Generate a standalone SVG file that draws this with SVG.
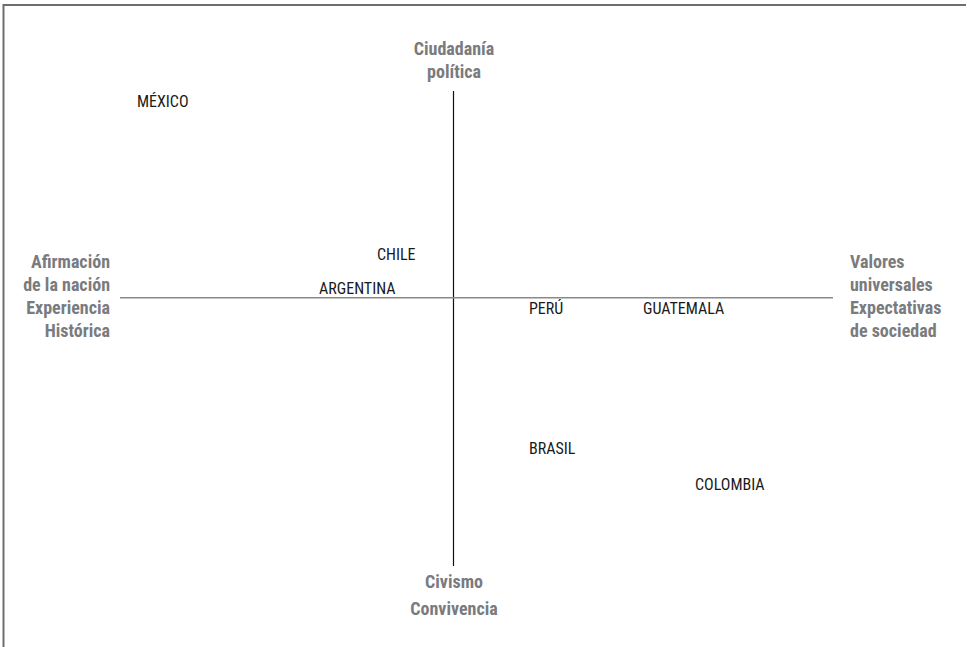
<svg xmlns="http://www.w3.org/2000/svg" width="967" height="647" viewBox="0 0 967 647">
<style>
.vx{stroke:#111;stroke-width:1.2;fill:none}
.hx{stroke:#8a8a8a;stroke-width:1.5;fill:none}
.fr{stroke:#6d6e70;stroke-width:2;fill:none}
.lab{font-family:"Liberation Sans Narrow","Arial Narrow","Roboto Condensed","Liberation Sans",sans-serif;font-weight:bold;font-size:18px;fill:#7a7b7e}
.c{font-family:"Liberation Sans Narrow","Arial Narrow","Roboto Condensed","Liberation Sans",sans-serif;font-size:16px;fill:#1a1a1a}
</style>
<rect width="967" height="647" fill="#fff"/>
<path class="fr" d="M3.5 647 V5 H966"/>
<g id="connectors">
<line class="vx" x1="453.5" y1="91" x2="453.5" y2="566"/>
<line class="hx" x1="120" y1="297.7" x2="833" y2="297.7"/>
</g>
<g id="top"><text class="lab" text-anchor="middle" x="454" y="55">Ciudadanía</text><text class="lab" text-anchor="middle" x="454" y="78">política</text></g>
<g id="bottom"><text class="lab" text-anchor="middle" x="454" y="588">Civismo</text><text class="lab" text-anchor="middle" x="454" y="615">Convivencia</text></g>
<g id="left"><text class="lab" text-anchor="end" x="110" y="268">Afirmación</text><text class="lab" text-anchor="end" x="110" y="291">de la nación</text><text class="lab" text-anchor="end" x="110" y="314">Experiencia</text><text class="lab" text-anchor="end" x="110" y="337">Histórica</text></g>
<g id="right"><text class="lab" x="850" y="268">Valores</text><text class="lab" x="850" y="291">universales</text><text class="lab" x="850" y="314">Expectativas</text><text class="lab" x="850" y="337">de sociedad</text></g>
<g id="mexico"><text class="c" x="137" y="107">MÉXICO</text></g>
<g id="chile"><text class="c" x="377" y="260">CHILE</text></g>
<g id="argentina"><text class="c" x="319" y="294">ARGENTINA</text></g>
<g id="peru"><text class="c" x="529" y="314">PERÚ</text></g>
<g id="guatemala"><text class="c" x="643" y="314">GUATEMALA</text></g>
<g id="brasil"><text class="c" x="529" y="454">BRASIL</text></g>
<g id="colombia"><text class="c" x="695" y="490">COLOMBIA</text></g>
</svg>
